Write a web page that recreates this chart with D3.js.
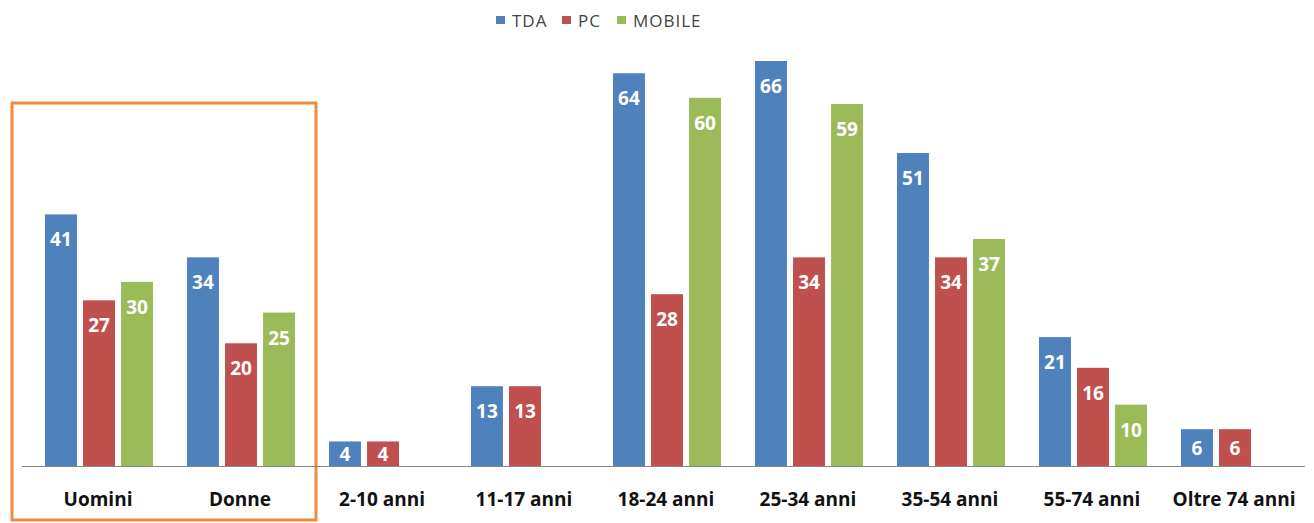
<!DOCTYPE html>
<html lang="it">
<head>
<meta charset="utf-8">
<script src="https://cdn.jsdelivr.net/npm/d3@7"></script>
<style>
body { margin:0; background:#fff; }
svg { display:block; font-family:"Open Sans", "DejaVu Sans", sans-serif; }
.lbl { fill:#fff; font-weight:bold; font-size:19px; }
.cat { fill:#111; font-weight:bold; font-size:19px; }
.leg { fill:#444; font-size:17px; letter-spacing:1px; }
</style>
</head>
<body>
<svg id="chart"></svg>
<script>
var categories = ["Uomini", "Donne", "2-10 anni", "11-17 anni", "18-24 anni", "25-34 anni", "35-54 anni", "55-74 anni", "Oltre 74 anni"];
var seriesNames = ["TDA", "PC", "MOBILE"];
var tda    = [41, 34, 4, 13, 64, 66, 51, 21, 6];
var pc     = [27, 20, 4, 13, 28, 34, 34, 16, 6];
var mobile = [30, 25, null, null, 60, 59, 37, 10, null];
var colors = ["#4F81BD", "#C0504D", "#9BBB59"];

var w = 1314, h = 523, baseY = 466, topY = 61;
var svg = d3.select('#chart').attr('width', w).attr('height', h);

var x0 = d3.scaleBand().domain(categories).range([28, 1306]).paddingInner(0).paddingOuter(0);
var x1 = d3.scaleBand().domain(seriesNames).range([17, 142 - 17]).paddingInner(0.16).paddingOuter(0);
var y = d3.scaleLinear().domain([0, 66]).range([baseY, topY]);

var values = [tda, pc, mobile];
var rows = [];
categories.forEach(function(c, i){
	seriesNames.forEach(function(s, j){
		if (values[j][i] != null) rows.push({cat:c, s:s, j:j, v:values[j][i]});
	});
});

// selection box around gender groups
svg.append('rect')
	.attr('x', 12).attr('y', 103).attr('width', 304).attr('height', 417)
	.attr('fill', 'none').attr('stroke', '#ED8B3F').attr('stroke-width', 3);

var g = svg.append('g');
g.selectAll('rect.bar').data(rows).enter().append('rect')
	.attr('class', 'bar')
	.attr('x', function(d){ return x0(d.cat) + x1(d.s); })
	.attr('y', function(d){ return y(d.v); })
	.attr('width', x1.bandwidth())
	.attr('height', function(d){ return baseY - y(d.v); })
	.attr('fill', function(d){ return colors[d.j]; });

g.selectAll('text.lbl').data(rows).enter().append('text')
	.attr('class', 'lbl')
	.attr('text-anchor', 'middle')
	.attr('x', function(d){ return x0(d.cat) + x1(d.s) + x1.bandwidth() / 2; })
	.attr('y', function(d){
		var t = y(d.v), hh = baseY - t;
		return Math.min(t + 32, t + hh / 2 + 7);
	})
	.text(function(d){ return d.v; });

// axis
svg.append('line').attr('x1', 22).attr('x2', 1305).attr('y1', baseY + 0.5).attr('y2', baseY + 0.5)
	.attr('stroke', '#888').attr('stroke-width', 1.2);

svg.selectAll('text.cat').data(categories).enter().append('text')
	.attr('class', 'cat')
	.attr('text-anchor', 'middle')
	.attr('x', function(d){ return x0(d) + x0.bandwidth() / 2 - 1; })
	.attr('y', 506)
	.text(function(d){ return d; });

// legend
var legX = [496, 562, 617];
var leg = svg.selectAll('g.leg').data(seriesNames).enter().append('g')
	.attr('transform', function(d, i){ return 'translate(' + legX[i] + ',0)'; });
leg.append('rect').attr('width', 9).attr('height', 8).attr('y', 16)
	.attr('fill', function(d, i){ return colors[i]; });
leg.append('text').attr('class', 'leg').attr('x', 16).attr('y', 27).text(function(d){ return d; });
</script>
</body>
</html>
